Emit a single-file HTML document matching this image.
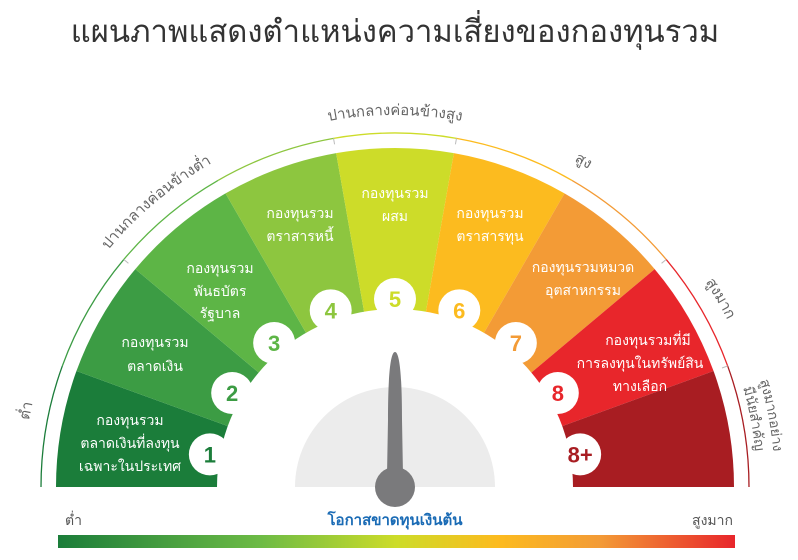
<!DOCTYPE html>
<html><head><meta charset="utf-8"><style>
html,body{margin:0;padding:0;background:#fff;}
body{width:798px;height:555px;overflow:hidden;position:relative;font-family:"Liberation Sans","Noto Sans CJK SC",sans-serif;}
</style></head><body>
<svg id="s" width="798" height="555" viewBox="0 0 798 555" xmlns="http://www.w3.org/2000/svg" style="font-family:'Liberation Sans','Noto Sans CJK SC',sans-serif">
<defs>
<linearGradient id="bar" x1="0" x2="1" y1="0" y2="0">
<stop offset="0" stop-color="#1b7d3a"/><stop offset="0.3" stop-color="#6dbb45"/><stop offset="0.5" stop-color="#cddc29"/><stop offset="0.65" stop-color="#fcbb1f"/><stop offset="0.8" stop-color="#f39b36"/><stop offset="1" stop-color="#e8262b"/>
</linearGradient>
<path id="lp" d="M 23 487 A 372 372 0 0 1 767 487" fill="none"/>
<path id="lp3" d="M 15 487 A 380 380 0 0 1 775 487" fill="none"/>
<path id="lp2" d="M 33 487 A 362 362 0 0 1 757 487" fill="none"/>
</defs>
<text x="395" y="42" text-anchor="middle" font-size="31" fill="#333">แผนภาพแสดงตำแหน่งความเสี่ยงของกองทุนรวม</text>
<g id="segs"></g>
<g id="ring"></g>
<g font-size="15" fill="#666">
<text><textPath href="#lp" startOffset="6.5%" text-anchor="middle">ต่ำ</textPath></text>
<text><textPath href="#lp" startOffset="27.8%" text-anchor="middle">ปานกลางค่อนข้างต่ำ</textPath></text>
<text><textPath href="#lp" startOffset="50%" text-anchor="middle">ปานกลางค่อนข้างสูง</textPath></text>
<text><textPath href="#lp" startOffset="66.7%" text-anchor="middle">สูง</textPath></text>
<text><textPath href="#lp" startOffset="83.3%" text-anchor="middle">สูงมาก</textPath></text>
<text font-size="14"><textPath href="#lp3" startOffset="94%" text-anchor="middle">สูงมากอย่าง</textPath></text>
<text font-size="14"><textPath href="#lp2" startOffset="94%" text-anchor="middle">มีนัยสำคัญ</textPath></text>
</g>
<g id="inner"></g>
<path d="M 295 487 A 100 100 0 0 1 495 487 Z" fill="#ececec"/>
<path d="M 395 352 C 400 352 402 380 402 420 L 403 475 L 387 475 L 388 420 C 388 380 390 352 395 352 Z" fill="#7a7a7c"/>
<circle cx="395" cy="487" r="20" fill="#7a7a7c"/>
<g font-size="14" fill="#fff" text-anchor="middle">
<text x="130" y="425">กองทุนรวม</text><text x="130" y="448">ตลาดเงินที่ลงทุน</text><text x="130" y="471">เฉพาะในประเทศ</text>
<text x="155" y="347">กองทุนรวม</text><text x="155" y="371">ตลาดเงิน</text>
<text x="220" y="273">กองทุนรวม</text><text x="220" y="296">พันธบัตร</text><text x="220" y="318">รัฐบาล</text>
<text x="300" y="218">กองทุนรวม</text><text x="300" y="241">ตราสารหนี้</text>
<text x="395" y="198">กองทุนรวม</text><text x="395" y="221">ผสม</text>
<text x="490" y="218">กองทุนรวม</text><text x="490" y="241">ตราสารทุน</text>
<text x="583" y="272">กองทุนรวมหมวด</text><text x="583" y="295">อุตสาหกรรม</text>
<text x="648" y="345">กองทุนรวมที่มี</text><text x="640" y="368">การลงทุนในทรัพย์สิน</text><text x="640" y="391">ทางเลือก</text>
</g>
<text x="65" y="525" font-size="14" fill="#555">ต่ำ</text>
<text x="733" y="525" font-size="14" fill="#555" text-anchor="end">สูงมาก</text>
<text x="395" y="525" font-size="15" font-weight="bold" fill="#1a6bb5" text-anchor="middle">โอกาสขาดทุนเงินต้น</text>
<rect x="58" y="535" width="677" height="13" fill="url(#bar)"/>
</svg>
<script>
var cx=395,cy=487,ns="http://www.w3.org/2000/svg";
var cols=["#1b7d3a","#3c9c44","#5db546","#8dc63f","#cddc29","#fcbb1f","#f39b36","#e8262b","#a81d22"];
var nums=["1","2","3","4","5","6","7","8","8+"];
function P(r,a){a=a*Math.PI/180;return [cx+r*Math.cos(a),cy-r*Math.sin(a)];}
function el(t,at,par){var e=document.createElementNS(ns,t);for(var k in at)e.setAttribute(k,at[k]);document.getElementById(par).appendChild(e);return e;}
for(var i=0;i<9;i++){
 var a1=180-i*20,a2=160-i*20,R=339;
 var p1=P(R,a1),p2=P(R,a2);
 el("path",{d:"M "+cx+" "+cy+" L "+p1[0]+" "+p1[1]+" A "+R+" "+R+" 0 0 1 "+p2[0]+" "+p2[1]+" Z",fill:cols[i]},"segs");
 var q1=P(354,a1),q2=P(354,a2);
 el("path",{d:"M "+q1[0]+" "+q1[1]+" A 354 354 0 0 1 "+q2[0]+" "+q2[1],fill:"none",stroke:cols[i],"stroke-width":1.3},"ring");
}
[140,100,80,40,20].forEach(function(a){var t1=P(348,a),t2=P(354,a);el("line",{x1:t1[0],y1:t1[1],x2:t2[0],y2:t2[1],stroke:"#bbb","stroke-width":1},"ring");});
el("path",{d:"M 217 487 A 178 178 0 0 1 573 487 Z",fill:"#fff"},"inner");
for(var i=0;i<9;i++){
 var a=170-i*20,c=P(188,a);
 el("circle",{cx:c[0],cy:c[1],r:21,fill:"#fff"},"inner");
}
el("rect",{x:190,y:487,width:410,height:40,fill:"#fff"},"inner");
for(var i=0;i<9;i++){
 var a=170-i*20,c=P(188,a);
 var t=el("text",{x:c[0],y:c[1]+8,"text-anchor":"middle","font-size":22,"font-weight":"bold",fill:cols[i]},"inner");
 t.textContent=nums[i];
}
</script>
</body></html>
